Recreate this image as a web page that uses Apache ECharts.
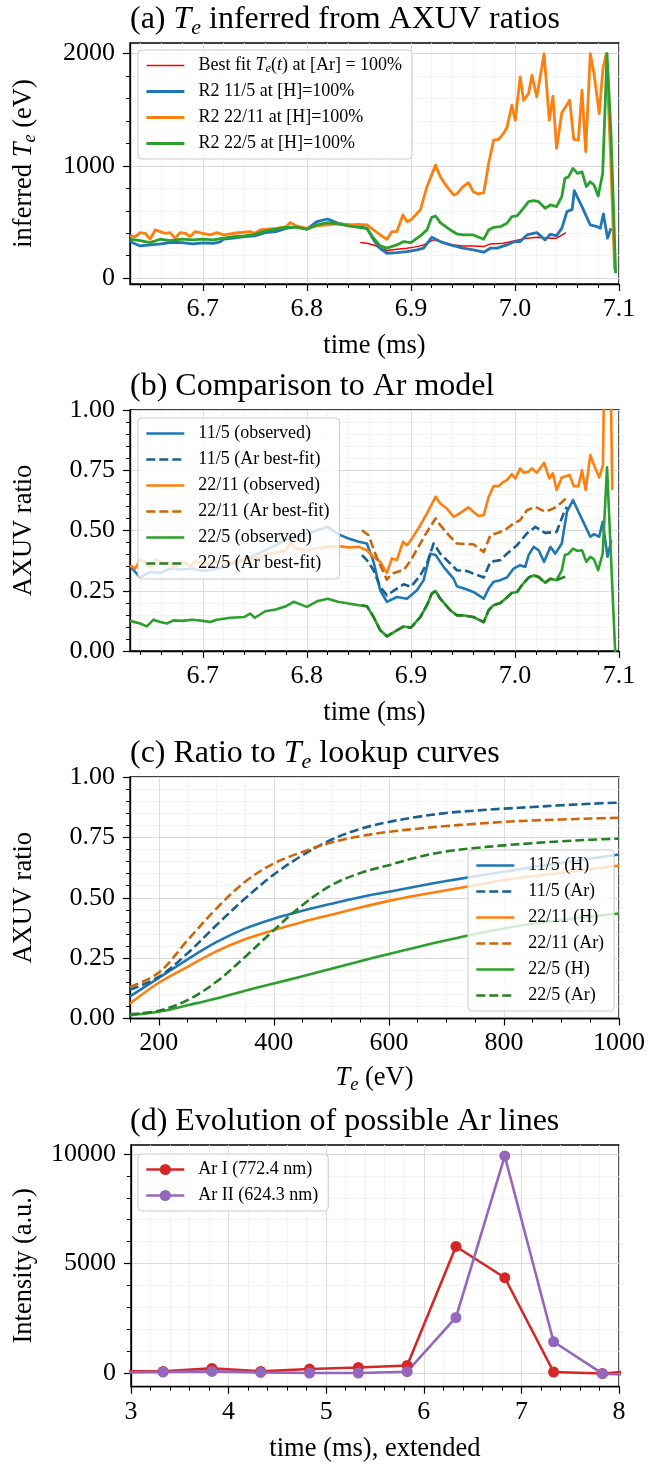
<!DOCTYPE html>
<html><head><meta charset="utf-8">
<script src="https://cdn.jsdelivr.net/npm/echarts@6.0.0/dist/echarts.min.js"></script>
<style>html,body{margin:0;padding:0;background:#fff}#c{width:648px;height:1466px}</style>
</head><body><div id="c"></div>
<script>
// ---------------- DATA ----------------
// Panel (a): inferred Te (eV) vs time (ms)
const aBestFit = [[6.8513,317],[6.8577,311],[6.8641,296],[6.8705,267],[6.8769,246],[6.8865,258],[6.8962,267],[6.9058,281],[6.9122,296],[6.9218,341],[6.9314,317],[6.941,296],[6.9506,287],[6.960,287],[6.970,281],[6.9763,305],[6.989,311],[6.9987,332],[7.0115,356],[7.021,364],[7.031,356],[7.040,356],[7.049,406]];
const aR11_5 = [[6.630,326],[6.6397,287],[6.650,296],[6.660,305],[6.670,320],[6.680,317],[6.690,305],[6.700,314],[6.710,311],[6.7167,323],[6.720,347],[6.7295,356],[6.7397,370],[6.750,376],[6.760,406],[6.770,415],[6.780,444],[6.790,459],[6.800,436],[6.8096,504],[6.820,527],[6.830,489],[6.840,474],[6.850,459],[6.8577,444],[6.8641,341],[6.870,267],[6.8769,222],[6.8865,228],[6.8962,237],[6.9058,252],[6.9122,267],[6.920,364],[6.9282,326],[6.9378,296],[6.950,267],[6.960,252],[6.970,231],[6.9763,267],[6.9827,267],[6.9923,296],[7.000,326],[7.005,326],[7.0115,385],[7.021,406],[7.029,341],[7.034,391],[7.040,379],[7.045,444],[7.050,593],[7.055,613],[7.057,779],[7.0644,637],[7.0724,474],[7.079,459],[7.082,444],[7.085,572],[7.089,356],[7.0923,444]];
const aR22_11 = [[6.6301,376],[6.6349,370],[6.6397,406],[6.6446,400],[6.6494,347],[6.6542,430],[6.659,415],[6.6638,400],[6.6686,406],[6.6734,356],[6.6782,406],[6.683,400],[6.6878,370],[6.6926,415],[6.700,400],[6.707,385],[6.7135,406],[6.720,385],[6.7295,400],[6.7397,409],[6.7455,415],[6.750,400],[6.7551,430],[6.7615,436],[6.7712,444],[6.780,459],[6.784,495],[6.790,465],[6.800,444],[6.8096,465],[6.820,474],[6.830,483],[6.840,474],[6.850,480],[6.8577,474],[6.8641,430],[6.8705,385],[6.8769,347],[6.8817,415],[6.8865,415],[6.8923,563],[6.8962,504],[6.900,519],[6.909,607],[6.9154,815],[6.9237,1007],[6.9282,904],[6.9346,815],[6.941,741],[6.9442,750],[6.950,815],[6.9554,850],[6.960,770],[6.965,750],[6.970,761],[6.9747,1022],[6.9795,1230],[6.9843,1236],[6.989,1289],[6.9923,1342],[6.997,1541],[7.0003,1407],[7.005,1793],[7.0083,1585],[7.0131,1644],[7.0163,1807],[7.021,1615],[7.028,2000],[7.033,1407],[7.0365,1621],[7.040,1156],[7.045,1473],[7.0526,1585],[7.0565,1236],[7.061,1230],[7.0644,1674],[7.068,1126],[7.0724,2000],[7.076,1822],[7.081,1467],[7.0846,1867],[7.0878,2000],[7.0917,1141],[7.0958,74]];
const aR22_5 = [[6.6301,347],[6.6397,335],[6.6494,317],[6.659,347],[6.6686,335],[6.680,347],[6.690,341],[6.700,347],[6.710,341],[6.720,356],[6.7295,370],[6.7397,376],[6.750,391],[6.760,421],[6.770,436],[6.780,453],[6.790,453],[6.800,436],[6.8096,474],[6.820,495],[6.830,483],[6.840,465],[6.850,453],[6.8577,444],[6.8641,356],[6.8705,287],[6.8769,267],[6.8865,296],[6.893,326],[6.900,317],[6.909,376],[6.9154,430],[6.920,542],[6.9237,554],[6.9282,495],[6.9378,430],[6.9442,394],[6.950,385],[6.960,385],[6.970,347],[6.9747,430],[6.9795,453],[6.9859,459],[6.9923,489],[6.997,548],[7.002,554],[7.0067,607],[7.0131,681],[7.018,690],[7.0228,681],[7.029,622],[7.034,652],[7.040,637],[7.045,726],[7.048,889],[7.0516,904],[7.0558,978],[7.060,933],[7.0644,948],[7.0686,815],[7.0724,859],[7.076,830],[7.080,732],[7.0843,933],[7.0885,2000],[7.0923,1289],[7.0968,44]];

// Panel (b): AXUV ratio vs time (ms)
const bObs11_5 = [[6.6301,0.352],[6.6397,0.305],[6.6494,0.328],[6.659,0.324],[6.6686,0.342],[6.680,0.338],[6.690,0.342],[6.700,0.332],[6.710,0.338],[6.720,0.349],[6.7295,0.366],[6.7397,0.377],[6.750,0.398],[6.760,0.418],[6.770,0.439],[6.780,0.463],[6.790,0.474],[6.800,0.488],[6.8096,0.501],[6.820,0.515],[6.830,0.485],[6.840,0.467],[6.850,0.453],[6.8577,0.446],[6.8641,0.37],[6.8705,0.252],[6.8769,0.204],[6.8865,0.224],[6.8962,0.217],[6.9058,0.252],[6.9122,0.294],[6.9186,0.404],[6.9237,0.398],[6.9314,0.349],[6.941,0.30],[6.9442,0.269],[6.9538,0.255],[6.960,0.245],[6.970,0.217],[6.9747,0.259],[6.9795,0.287],[6.9859,0.294],[6.9923,0.305],[6.9987,0.342],[7.005,0.356],[7.0099,0.349],[7.0131,0.398],[7.018,0.432],[7.0228,0.418],[7.028,0.37],[7.034,0.432],[7.0388,0.404],[7.045,0.446],[7.050,0.578],[7.0558,0.626],[7.061,0.578],[7.0657,0.536],[7.0724,0.474],[7.076,0.485],[7.081,0.474],[7.0843,0.536],[7.089,0.391],[7.0926,0.46]];
const bFit11_5 = [[6.8529,0.398],[6.8577,0.377],[6.8641,0.335],[6.8705,0.266],[6.8769,0.231],[6.8865,0.259],[6.893,0.277],[6.900,0.266],[6.909,0.314],[6.9154,0.363],[6.9218,0.446],[6.9282,0.404],[6.9378,0.363],[6.9442,0.335],[6.9538,0.332],[6.960,0.321],[6.970,0.305],[6.9763,0.37],[6.9859,0.377],[6.9923,0.404],[7.002,0.439],[7.0115,0.488],[7.0196,0.515],[7.029,0.49],[7.040,0.494],[7.0468,0.571],[7.050,0.598]];
const bObs22_11 = [[6.6301,0.356],[6.6349,0.342],[6.6397,0.377],[6.6446,0.37],[6.6494,0.345],[6.6542,0.38],[6.659,0.372],[6.6638,0.362],[6.6686,0.368],[6.6734,0.345],[6.6782,0.37],[6.683,0.366],[6.6878,0.352],[6.6926,0.372],[6.700,0.365],[6.707,0.36],[6.7135,0.372],[6.720,0.362],[6.7295,0.37],[6.7397,0.378],[6.750,0.385],[6.760,0.398],[6.7712,0.41],[6.780,0.418],[6.784,0.45],[6.790,0.425],[6.800,0.418],[6.8096,0.425],[6.820,0.432],[6.830,0.435],[6.840,0.43],[6.850,0.432],[6.8577,0.418],[6.8641,0.39],[6.8705,0.37],[6.8769,0.324],[6.8817,0.384],[6.8865,0.377],[6.8923,0.453],[6.8962,0.439],[6.900,0.46],[6.909,0.522],[6.9154,0.571],[6.9237,0.64],[6.9282,0.612],[6.9346,0.591],[6.941,0.557],[6.9442,0.564],[6.9554,0.596],[6.960,0.578],[6.965,0.56],[6.970,0.564],[6.9747,0.64],[6.9795,0.684],[6.9843,0.684],[6.989,0.702],[6.9923,0.709],[6.997,0.734],[7.0003,0.716],[7.005,0.758],[7.0083,0.74],[7.0131,0.744],[7.0163,0.758],[7.021,0.74],[7.028,0.781],[7.033,0.716],[7.0365,0.737],[7.040,0.668],[7.045,0.72],[7.0526,0.73],[7.0565,0.684],[7.061,0.684],[7.0644,0.751],[7.068,0.668],[7.0724,0.813],[7.076,0.771],[7.081,0.72],[7.0846,0.771],[7.0865,1.4],[7.0912,1.4],[7.0935,0.668]];
const bFit22_11 = [[6.8529,0.501],[6.8593,0.48],[6.8657,0.404],[6.8705,0.356],[6.8769,0.296],[6.8817,0.321],[6.8865,0.328],[6.893,0.335],[6.900,0.377],[6.909,0.446],[6.9154,0.494],[6.9237,0.55],[6.9282,0.522],[6.9378,0.474],[6.9442,0.446],[6.9538,0.443],[6.960,0.443],[6.970,0.411],[6.9763,0.48],[6.9859,0.494],[6.9923,0.508],[6.9987,0.529],[7.005,0.543],[7.0115,0.584],[7.0196,0.598],[7.029,0.578],[7.037,0.591],[7.0436,0.612],[7.049,0.633]];
const bObs22_5 = [[6.6301,0.125],[6.6397,0.114],[6.6462,0.102],[6.6526,0.13],[6.659,0.12],[6.6654,0.114],[6.6718,0.127],[6.680,0.125],[6.690,0.13],[6.700,0.125],[6.707,0.12],[6.7135,0.13],[6.7263,0.138],[6.7397,0.141],[6.7455,0.155],[6.750,0.138],[6.760,0.165],[6.770,0.172],[6.780,0.186],[6.7872,0.204],[6.800,0.183],[6.8096,0.206],[6.820,0.217],[6.830,0.204],[6.840,0.197],[6.850,0.19],[6.8577,0.186],[6.8641,0.141],[6.8705,0.086],[6.8769,0.061],[6.8865,0.086],[6.893,0.102],[6.900,0.097],[6.909,0.141],[6.9154,0.19],[6.920,0.238],[6.9237,0.249],[6.9282,0.217],[6.9378,0.169],[6.9442,0.148],[6.950,0.148],[6.960,0.141],[6.970,0.12],[6.9747,0.169],[6.9795,0.19],[6.9859,0.199],[6.9923,0.222],[6.997,0.241],[7.002,0.245],[7.0067,0.273],[7.0131,0.305],[7.018,0.314],[7.0228,0.307],[7.029,0.283],[7.034,0.30],[7.040,0.294],[7.045,0.335],[7.048,0.398],[7.0516,0.404],[7.0558,0.425],[7.060,0.415],[7.0644,0.418],[7.0686,0.37],[7.0724,0.391],[7.076,0.38],[7.080,0.335],[7.0843,0.404],[7.0885,0.762],[7.0968,-0.05]];
const bFit22_5 = [[6.8529,0.19],[6.8577,0.186],[6.8641,0.141],[6.8705,0.086],[6.8769,0.061],[6.8865,0.086],[6.893,0.102],[6.900,0.097],[6.909,0.141],[6.9154,0.19],[6.920,0.238],[6.9237,0.249],[6.9282,0.217],[6.9378,0.169],[6.9442,0.148],[6.950,0.148],[6.960,0.141],[6.970,0.12],[6.9747,0.169],[6.9795,0.19],[6.9859,0.199],[6.9923,0.222],[6.997,0.241],[7.002,0.245],[7.0067,0.273],[7.0131,0.305],[7.018,0.314],[7.0228,0.307],[7.029,0.283],[7.034,0.30],[7.040,0.294],[7.049,0.31]];

// Panel (c): lookup curves, ratio vs Te (eV)
const cTe      = [150, 200, 250, 300, 350, 400, 450, 500, 550, 600, 650, 700, 750, 800, 850, 900, 950, 1000];
const cH11_5   = [0.092,0.168,0.245,0.316,0.372,0.413,0.446,0.475,0.502,0.525,0.548,0.569,0.589,0.608,0.627,0.645,0.662,0.679];
const cAr11_5  = [0.120,0.172,0.270,0.386,0.497,0.596,0.676,0.740,0.785,0.814,0.835,0.851,0.861,0.869,0.876,0.883,0.889,0.894];
const cH22_11  = [0.062,0.148,0.214,0.278,0.328,0.366,0.400,0.430,0.460,0.487,0.510,0.531,0.552,0.573,0.589,0.603,0.618,0.633];
const cAr22_11 = [0.131,0.190,0.324,0.455,0.566,0.642,0.690,0.729,0.755,0.773,0.786,0.797,0.806,0.814,0.820,0.824,0.828,0.831];
const cH22_5   = [0.014,0.028,0.055,0.083,0.115,0.145,0.175,0.206,0.237,0.267,0.296,0.324,0.350,0.373,0.392,0.408,0.422,0.435];
const cAr22_5  = [0.018,0.032,0.076,0.152,0.255,0.366,0.470,0.552,0.602,0.635,0.668,0.692,0.706,0.717,0.726,0.734,0.740,0.745];

// Panel (d): Ar line intensities vs time (ms)
const dTime = [2.83, 3.33, 3.83, 4.33, 4.83, 5.33, 5.83, 6.33, 6.83, 7.33, 7.83, 8.33];
const dArI  = [80, 73, 210, 73, 182, 255, 346, 5777, 4350, 46, -20, 150];
const dArII = [20, 46, 73, 27, 0, 0, 59, 2535, 9909, 1427, -32, -120];

// Tick labels
const aXTicks = [6.7, 6.8, 6.9, 7.0, 7.1];
const aYTicks = [0, 1000, 2000];
const bYTicks = [0, 0.25, 0.5, 0.75, 1.0];
const cXTicks = [200, 400, 600, 800, 1000];
const dXTicks = [3, 4, 5, 6, 7, 8];
const dYTicks = [0, 5000, 10000];

// ---------------- STYLE ----------------
const FONT = "'Liberation Serif', 'Times New Roman', serif";
const C = {blue:'#1f77b4', orange:'#ff7f0e', green:'#2ca02c', red:'#d62728', purple:'#9467bd',
           dblue:'#195f90', dorange:'#cc660b', dgreen:'#238023'};
const TICK_FS = 26, LABEL_FS = 26.5, TITLE_FS = 32, LEG_FS = 18;

function mkRich(fs, lh, sfs, slh) {
  return {
    i: {fontFamily: FONT, fontSize: fs, fontStyle: 'italic', color: '#000', lineHeight: lh},
    s: {fontFamily: FONT, fontSize: sfs, fontStyle: 'italic', color: '#000', lineHeight: slh, verticalAlign: 'bottom'}
  };
}
function minors(min, max, step, majors) {
  const out = [];
  const k0 = Math.ceil(min / step - 1e-9), k1 = Math.floor(max / step + 1e-9);
  for (let k = k0; k <= k1; k++) {
    const v = +(k * step).toFixed(6);
    if (!majors.some(m => Math.abs(m - v) < step * 1e-3)) out.push(v);
  }
  return out;
}
const grids = [
  {left: 130, width: 489, top: 43, height: 241},
  {left: 130, width: 489, top: 410, height: 241},
  {left: 130, width: 489, top: 777, height: 241.5},
  {left: 130, width: 489, top: 1145, height: 241.7}
].map(g => Object.assign(g, {show: true, borderColor: '#000', borderWidth: 1.3, backgroundColor: 'transparent'}));

const nameStyle = {fontFamily: FONT, fontSize: LABEL_FS, color: '#000', lineHeight: 32, rich: mkRich(LABEL_FS, 32, 18.5, 16)};

function axisPair(dim, g, min, max, majors, minorStep, fmt, name, nameGap) {
  const main = {
    type: 'value', gridIndex: g, min: min, max: max, z: 1,
    position: dim === 'x' ? 'bottom' : 'left',
    axisLine: {show: true, onZero: false, lineStyle: {color: '#000', width: 1.3}},
    axisTick: {show: true, customValues: majors, length: 7, lineStyle: {color: '#000', width: 1.2}},
    axisLabel: {show: true, customValues: majors, formatter: fmt, fontFamily: FONT, fontSize: TICK_FS, color: '#000', margin: dim === 'x' ? 12 : 15},
    splitLine: {show: true, lineStyle: {color: '#dcdcdc', width: 1}},
    minorTick: {show: false}, minorSplitLine: {show: false},
    name: name, nameLocation: 'middle', nameGap: nameGap, nameTextStyle: nameStyle
  };
  const mn = minors(min, max, minorStep, majors);
  const minor = {
    type: 'value', gridIndex: g, min: min, max: max, z: 0,
    position: dim === 'x' ? 'bottom' : 'left',
    axisLine: {show: false, onZero: false},
    axisTick: {show: true, customValues: mn, length: 4, lineStyle: {color: '#000', width: 1}},
    axisLabel: {show: false, customValues: mn},
    splitLine: {show: true, lineStyle: {color: '#f1f1f1', width: 0.8}},
    minorTick: {show: false}
  };
  return [main, minor];
}
const f1 = v => v.toFixed(1), f2 = v => v.toFixed(2), f0 = v => String(Math.round(v));
const xAxis = [].concat(
  axisPair('x', 0, 6.63, 7.1, aXTicks, 0.02, f1, 'time (ms)', 46),
  axisPair('x', 1, 6.63, 7.1, aXTicks, 0.02, f1, 'time (ms)', 46),
  axisPair('x', 2, 150, 1000, cXTicks, 50, f0, '{i|T}{s|e} (eV)', 44),
  axisPair('x', 3, 3, 8, dXTicks, 0.2, f0, 'time (ms), extended', 46)
);
const yAxis = [].concat(
  axisPair('y', 0, -52, 2095, aYTicks, 200, f0, 'inferred {i|T}{s|e} (eV)', 90),
  axisPair('y', 1, 0, 1, bYTicks, 0.05, f2, 'AXUV ratio', 90),
  axisPair('y', 2, 0, 1, bYTicks, 0.05, f2, 'AXUV ratio', 90),
  axisPair('y', 3, -625, 10410, dYTicks, 1000, f0, 'Intensity (a.u.)', 88)
);

function line(name, g, data, color, width, dashed, extra) {
  return Object.assign({
    name: name, type: 'line', xAxisIndex: 2 * g, yAxisIndex: 2 * g, data: data,
    symbol: 'none', clip: true, z: 3,
    lineStyle: {color: color, width: width, type: dashed ? [9, 4] : 'solid', join: 'round'},
    itemStyle: {color: color}
  }, extra || {});
}
const zip = (xs, ys) => xs.map((x, i) => [x, ys[i]]);
const smoothOpt = {smooth: 0.35};

const series = [
  line('Best fit', 0, aBestFit, '#ff0000', 1.5, false),
  line('R2 11/5 at [H]=100%', 0, aR11_5, C.blue, 2.8, false),
  line('R2 22/11 at [H]=100%', 0, aR22_11, C.orange, 2.8, false),
  line('R2 22/5 at [H]=100%', 0, aR22_5, C.green, 2.8, false),

  line('11/5 (observed)', 1, bObs11_5, C.blue, 2.6, false),
  line('11/5 (Ar best-fit)', 1, bFit11_5, C.dblue, 2.6, true),
  line('22/11 (observed)', 1, bObs22_11, C.orange, 2.6, false),
  line('22/11 (Ar best-fit)', 1, bFit22_11, C.dorange, 2.6, true),
  line('22/5 (observed)', 1, bObs22_5, C.green, 2.6, false),
  line('22/5 (Ar best-fit)', 1, bFit22_5, C.dgreen, 2.6, true),

  line('11/5 (H)', 2, zip(cTe, cH11_5), C.blue, 2.6, false, smoothOpt),
  line('11/5 (Ar)', 2, zip(cTe, cAr11_5), C.dblue, 2.6, true, smoothOpt),
  line('22/11 (H)', 2, zip(cTe, cH22_11), C.orange, 2.6, false, smoothOpt),
  line('22/11 (Ar)', 2, zip(cTe, cAr22_11), C.dorange, 2.6, true, smoothOpt),
  line('22/5 (H)', 2, zip(cTe, cH22_5), C.green, 2.6, false, smoothOpt),
  line('22/5 (Ar)', 2, zip(cTe, cAr22_5), C.dgreen, 2.6, true, smoothOpt),

  line('Ar I (772.4 nm)', 3, zip(dTime, dArI), C.red, 2.6, false, {symbol: 'circle', symbolSize: 11, showSymbol: true}),
  line('Ar II (624.3 nm)', 3, zip(dTime, dArII), C.purple, 2.6, false, {symbol: 'circle', symbolSize: 11, showSymbol: true})
];

function legend(names, left, top, formatter, hideSymbol) {
  const l = {
    data: names, left: left, top: top, orient: 'vertical', selectedMode: false,
    itemWidth: 38, itemHeight: 14, itemGap: 7,
    padding: [6, 10, 6, 7],
    backgroundColor: 'rgba(255,255,255,0.8)', borderColor: '#cccccc', borderWidth: 1, borderRadius: 4,
    lineStyle: {width: 'inherit', type: 'inherit'},
    textStyle: {fontFamily: FONT, fontSize: LEG_FS, color: '#000', lineHeight: 19, padding: [0, 0, 0, 9],
                rich: mkRich(LEG_FS, 19, 12.5, 9)}
  };
  if (formatter) l.formatter = formatter;
  if (hideSymbol) l.itemStyle = {opacity: 0};
  return l;
}
const legends = [
  legend(['Best fit', 'R2 11/5 at [H]=100%', 'R2 22/11 at [H]=100%', 'R2 22/5 at [H]=100%'], 138, 50,
    n => n === 'Best fit' ? 'Best fit {i|T}{s|e}({i|t}) at [Ar] = 100%' : n, true),
  legend(['11/5 (observed)', '11/5 (Ar best-fit)', '22/11 (observed)', '22/11 (Ar best-fit)', '22/5 (observed)', '22/5 (Ar best-fit)'], 138, 418, null, true),
  legend(['11/5 (H)', '11/5 (Ar)', '22/11 (H)', '22/11 (Ar)', '22/5 (H)', '22/5 (Ar)'], 468, 850, null, true),
  legend(['Ar I (772.4 nm)', 'Ar II (624.3 nm)'], 138, 1154, null, false)
];

const titleStyle = {fontFamily: FONT, fontSize: TITLE_FS, fontWeight: 'normal', color: '#000', lineHeight: 38,
                     rich: mkRich(TITLE_FS, 38, 22, 19)};
const titles = [
  {text: '(a) {i|T}{s|e} inferred from AXUV ratios', top: 43 - 42},
  {text: '(b) Comparison to Ar model', top: 410 - 42},
  {text: '(c) Ratio to {i|T}{s|e} lookup curves', top: 777 - 42},
  {text: '(d) Evolution of possible Ar lines', top: 1145 - 42}
].map(t => Object.assign(t, {left: 130, padding: 0, textStyle: titleStyle}));

const chart = echarts.init(document.getElementById('c'), null, {renderer: 'canvas'});
chart.setOption({
  animation: false,
  backgroundColor: '#ffffff',
  title: titles,
  grid: grids,
  xAxis: xAxis,
  yAxis: yAxis,
  legend: legends,
  series: series
});
</script></body></html>
